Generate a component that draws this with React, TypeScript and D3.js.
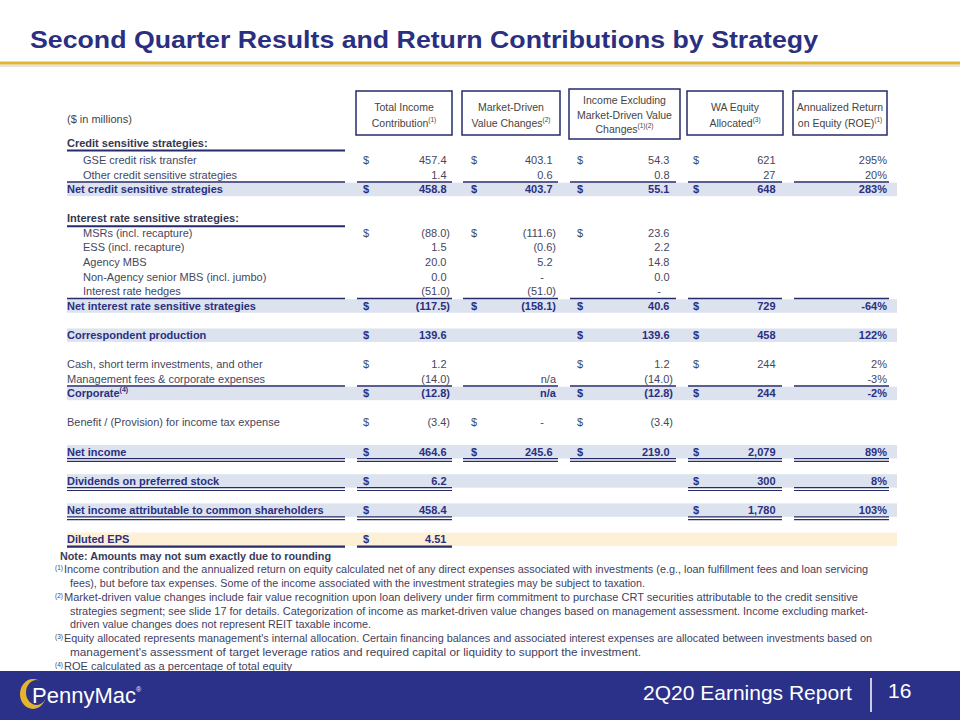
import React, { useEffect } from 'react';
import * as d3 from 'd3';

// ---------- DATA ----------
const titleText = 'Second Quarter Results and Return Contributions by Strategy';
const unitsLabel = '($ in millions)';

const columnHeaders: string[][] = [
  ['Total Income', 'Contribution'],
  ['Market-Driven', 'Value Changes'],
  ['Income Excluding', 'Market-Driven Value', 'Changes'],
  ['WA Equity', 'Allocated'],
  ['Annualized Return', 'on Equity (ROE)'],
];
const columnHeaderNotes = ['(1)', '(2)', '(1)(2)', '(3)', '(1)'];

const rowLabels = [
  'Credit sensitive strategies:',
  'GSE credit risk transfer',
  'Other credit sensitive strategies',
  'Net credit sensitive strategies',
  'Interest rate sensitive strategies:',
  'MSRs (incl. recapture)',
  'ESS (incl. recapture)',
  'Agency MBS',
  'Non-Agency senior MBS (incl. jumbo)',
  'Interest rate hedges',
  'Net interest rate sensitive strategies',
  'Correspondent production',
  'Cash, short term investments, and other',
  'Management fees & corporate expenses',
  'Corporate^(4)',
  'Benefit / (Provision) for income tax expense',
  'Net income',
  'Dividends on preferred stock',
  'Net income attributable to common shareholders',
  'Diluted EPS',
];

const totalIncome = [null, '$457.4', '1.4', '$458.8', null, '$(88.0)', '1.5', '20.0', '0.0', '(51.0)', '$(117.5)', '$139.6', '$1.2', '(14.0)', '$(12.8)', '$(3.4)', '$464.6', '$6.2', '$458.4', '$4.51'];
const marketDriven = [null, '$403.1', '0.6', '$403.7', null, '$(111.6)', '(0.6)', '5.2', '-', '(51.0)', '$(158.1)', null, null, 'n/a', 'n/a', '$-', '$245.6', null, null, null];
const incomeExcl = [null, '$54.3', '0.8', '$55.1', null, '$23.6', '2.2', '14.8', '0.0', '-', '$40.6', '$139.6', '$1.2', '(14.0)', '$(12.8)', '$(3.4)', '$219.0', null, null, null];
const waEquity = [null, '$621', '27', '$648', null, null, null, null, null, null, '$729', '$458', '$244', null, '$244', null, '$2,079', '$300', '$1,780', null];
const roe = [null, '295%', '20%', '283%', null, null, null, null, null, null, '-64%', '122%', '2%', '-3%', '-2%', null, '89%', '8%', '103%', null];

const noteTitle = 'Note: Amounts may not sum exactly due to rounding';
const footnoteMarks = ['(1)', '', '(2)', '', '', '(3)', '', '(4)'];
const footnoteLines = [
  'Income contribution and the annualized return on equity calculated net of any direct expenses associated with investments (e.g., loan fulfillment fees and loan servicing',
  'fees), but before tax expenses.  Some of the income associated with the investment strategies may be subject to taxation.',
  'Market-driven value changes include fair value recognition upon loan delivery under firm commitment to purchase CRT securities attributable to the credit sensitive',
  'strategies segment; see slide 17 for details. Categorization of income as market-driven value changes based on management  assessment.  Income excluding market-',
  'driven value changes does not represent REIT taxable income.',
  "Equity allocated represents management's internal allocation.  Certain financing balances and associated interest expenses are allocated between investments based on",
  "management's assessment of target leverage ratios and required capital or liquidity to support the investment.",
  'ROE  calculated as a percentage of total equity',
];
const footerReport = '2Q20 Earnings Report';
const footerPage = '16';
const logoText = 'PennyMac';

// ---------- LAYOUT ----------
const rowKinds = ['section', 'item', 'item', 'total', 'section', 'item', 'item', 'item', 'item', 'item', 'total', 'total', 'plain', 'plain', 'total', 'plain', 'total', 'total', 'total', 'eps'];
const rowRules = ['under', '', '', 'above', 'under', '', '', '', '', '', 'above', '', '', '', 'above', '', 'double', 'double', 'double', 'single'];
const rowSlots = [-1.2, 0, 1, 2, 4, 5, 6, 7, 8, 9, 10, 12, 14, 15, 16, 18, 20, 22, 24, 26];
const footnoteEnds = [868, 645, 858, 868, 371, 872, 641, 292];

const colLeft = [357, 463, 570, 688, 794];
const colRight = [452, 558, 676, 782, 889];
const dollarX = [363, 471, 577, 693, 0];
const valueRight = [450, 556, 673, 779, 887];
const boxLeft = [356, 462, 569, 687, 793];
const boxRight = [452, 560, 680, 783, 887];
const labelSeg = [67, 345];
const bandSeg = [67, 897];

const NAVY = '#2B2F80';
const LINE = '#262B6A';
const GRAY = '#45475E';
const SECTION = '#35374F';
const BAND = '#DCE3EF';
const EPSBAND = '#FDF0D6';
const FONT = '"Liberation Sans", Arial, Helvetica, sans-serif';
const NARROW = '"Liberation Sans Narrow", "Arial Narrow", "Liberation Sans", Arial, sans-serif';

const columns = [totalIncome, marketDriven, incomeExcl, waEquity, roe];

export default function App() {
  useEffect(() => {
    document.body.style.margin = '0';
  }, []);

  const y = d3.scaleLinear().domain([0, 26]).range([160, 539]);
  const footY = d3.scaleLinear().domain([0, 8]).range([556, 666]);

  const renderLabel = (label: string, x: number, yy: number, fill: string, weight: string) => {
    const [main, sup] = label.split('^');
    return (
      <text x={x} y={yy + 4} fontSize={11} fontFamily={FONT} fill={fill} fontWeight={weight}>
        {main}
        {sup ? (
          <tspan fontSize={7} dy={-5}>
            {sup}
          </tspan>
        ) : null}
      </text>
    );
  };

  const rows = rowLabels.map((label, i) => {
    const kind = rowKinds[i];
    const yc = y(rowSlots[i]);
    const isTotal = kind === 'total' || kind === 'eps';
    const fill = isTotal ? NAVY : kind === 'section' ? SECTION : GRAY;
    const weight = isTotal || kind === 'section' ? 'bold' : 'normal';
    const lx = kind === 'item' ? 83 : 67;
    const els: any[] = [];

    if (isTotal) {
      els.push(
        <rect key="band" x={bandSeg[0]} y={yc - 6.5} width={bandSeg[1] - bandSeg[0]} height={13.5} fill={kind === 'eps' ? EPSBAND : BAND} />
      );
    }
    els.push(<g key="lab">{renderLabel(label, lx, yc, fill, weight)}</g>);

    columns.forEach((col, c) => {
      const v = col[i];
      if (v == null) return;
      const dollar = v.startsWith('$');
      const text = dollar ? v.slice(1) : v;
      if (dollar) {
        els.push(
          <text key={'d' + c} x={dollarX[c]} y={yc + 4} fontSize={11} fontFamily={FONT} fill={isTotal ? NAVY : GRAY} fontWeight={weight}>
            $
          </text>
        );
      }
      let rx = valueRight[c];
      if (text === '-') rx -= 12;
      else if (!text.endsWith(')') && !text.endsWith('%') && text !== 'n/a') rx -= 3.5;
      els.push(
        <text key={'v' + c} x={rx} y={yc + 4} fontSize={11} fontFamily={FONT} fill={isTotal ? NAVY : GRAY} fontWeight={weight} textAnchor="end">
          {text}
        </text>
      );
    });

    const rule = rowRules[i];
    const segs: number[][] = [];
    if (rule === 'under') {
      els.push(<line key="ru" x1={labelSeg[0]} x2={labelSeg[1]} y1={yc + 8} y2={yc + 8} stroke={LINE} strokeWidth={2} />);
    } else if (rule === 'above') {
      segs.push(labelSeg);
      colLeft.forEach((l, c) => segs.push([l, colRight[c]]));
      segs.forEach((s, k) =>
        els.push(<line key={'ra' + k} x1={s[0]} x2={s[1]} y1={yc - 7.2} y2={yc - 7.2} stroke={LINE} strokeWidth={1.4} />)
      );
    } else if (rule === 'double' || rule === 'single') {
      segs.push(labelSeg);
      columns.forEach((col, c) => {
        if (col[i] != null) segs.push([colLeft[c], colRight[c]]);
      });
      segs.forEach((s, k) => {
        if (rule === 'double') {
          els.push(<line key={'r1' + k} x1={s[0]} x2={s[1]} y1={yc + 7} y2={yc + 7} stroke={LINE} strokeWidth={1.2} />);
          els.push(<line key={'r2' + k} x1={s[0]} x2={s[1]} y1={yc + 9.8} y2={yc + 9.8} stroke={LINE} strokeWidth={1.2} />);
        } else {
          els.push(<line key={'r1' + k} x1={s[0]} x2={s[1]} y1={yc + 7.6} y2={yc + 7.6} stroke={LINE} strokeWidth={2.2} />);
        }
      });
    }
    return <g key={'row' + i}>{els}</g>;
  });

  const headers = columnHeaders.map((lines, c) => {
    const three = lines.length === 3;
    const top = three ? 89 : 91;
    const bottom = three ? 139 : 135;
    const cx = (boxLeft[c] + boxRight[c]) / 2;
    const centers = three ? [100, 114.5, 129] : [107, 123];
    return (
      <g key={'h' + c}>
        <rect x={boxLeft[c]} y={top} width={boxRight[c] - boxLeft[c]} height={bottom - top} fill="none" stroke={LINE} strokeWidth={1.5} />
        {lines.map((ln, k) => (
          <text key={k} x={cx} y={centers[k] + 4} textAnchor="middle" fontSize={10.5} fontFamily={FONT} fill="#444">
            {ln}
            {k === lines.length - 1 ? (
              <tspan fontSize={6.5} dy={-5}>
                {columnHeaderNotes[c]}
              </tspan>
            ) : null}
          </text>
        ))}
      </g>
    );
  });

  return (
    <svg width={960} height={720} viewBox="0 0 960 720" style={{ position: 'absolute', left: 0, top: 0, display: 'block', background: '#fff' }}>
      <rect x={0} y={0} width={960} height={720} fill="#fff" />
      {/* title */}
      <text x={30} y={48} fontSize={24} fontWeight="bold" fontFamily={FONT} fill={NAVY} textLength={788} lengthAdjust="spacingAndGlyphs">
        {titleText}
      </text>
      <rect x={0} y={64.5} width={960} height={2.5} fill="#E4E4E4" />
      <rect x={0} y={61.5} width={960} height={3} fill="#DDB634" />

      {/* header */}
      <text x={67} y={123} fontSize={11} fontFamily={FONT} fill="#444">
        {unitsLabel}
      </text>
      {headers}

      {rows}

      {/* footnotes */}
      <text x={60} y={footY(0) + 4} fontSize={11} fontWeight="bold" fontFamily={NARROW} fill="#3A3C5A" textLength={271} lengthAdjust="spacingAndGlyphs">
        {noteTitle}
      </text>
      {footnoteLines.map((ln, k) => {
        const yy = footY(k + 1) + 3.5;
        const mark = footnoteMarks[k];
        const x0 = mark ? 64 : 70;
        return (
          <g key={'fn' + k}>
            {mark ? (
              <text x={55} y={yy - 3} fontSize={6.5} fontFamily={FONT} fill="#45475E">
                {mark}
              </text>
            ) : null}
            <text x={x0} y={yy} fontSize={10.5} fontFamily={NARROW} fill="#3F4160" textLength={footnoteEnds[k] - x0} lengthAdjust="spacingAndGlyphs">
              {ln}
            </text>
          </g>
        );
      })}

      {/* footer */}
      <rect x={0} y={671} width={960} height={49} fill="#2B3189" />
      <ellipse cx={33} cy={694} rx={13} ry={15} fill="#E3B42C" />
      <ellipse cx={36.5} cy={692.5} rx={10.5} ry={12.5} fill="#2B3189" />
      <text x={32} y={703} fontSize={22} fontFamily={FONT} fill="#fff">
        {logoText}
      </text>
      <text x={136} y={692} fontSize={7} fontFamily={FONT} fill="#fff">
        ®
      </text>
      <text x={643} y={700} fontSize={21} fontFamily={FONT} fill="#fff">
        {footerReport}
      </text>
      <line x1={871} x2={871} y1={678} y2={712} stroke="#fff" strokeWidth={1.5} />
      <text x={888} y={698} fontSize={21} fontFamily={FONT} fill="#fff">
        {footerPage}
      </text>
    </svg>
  );
}
